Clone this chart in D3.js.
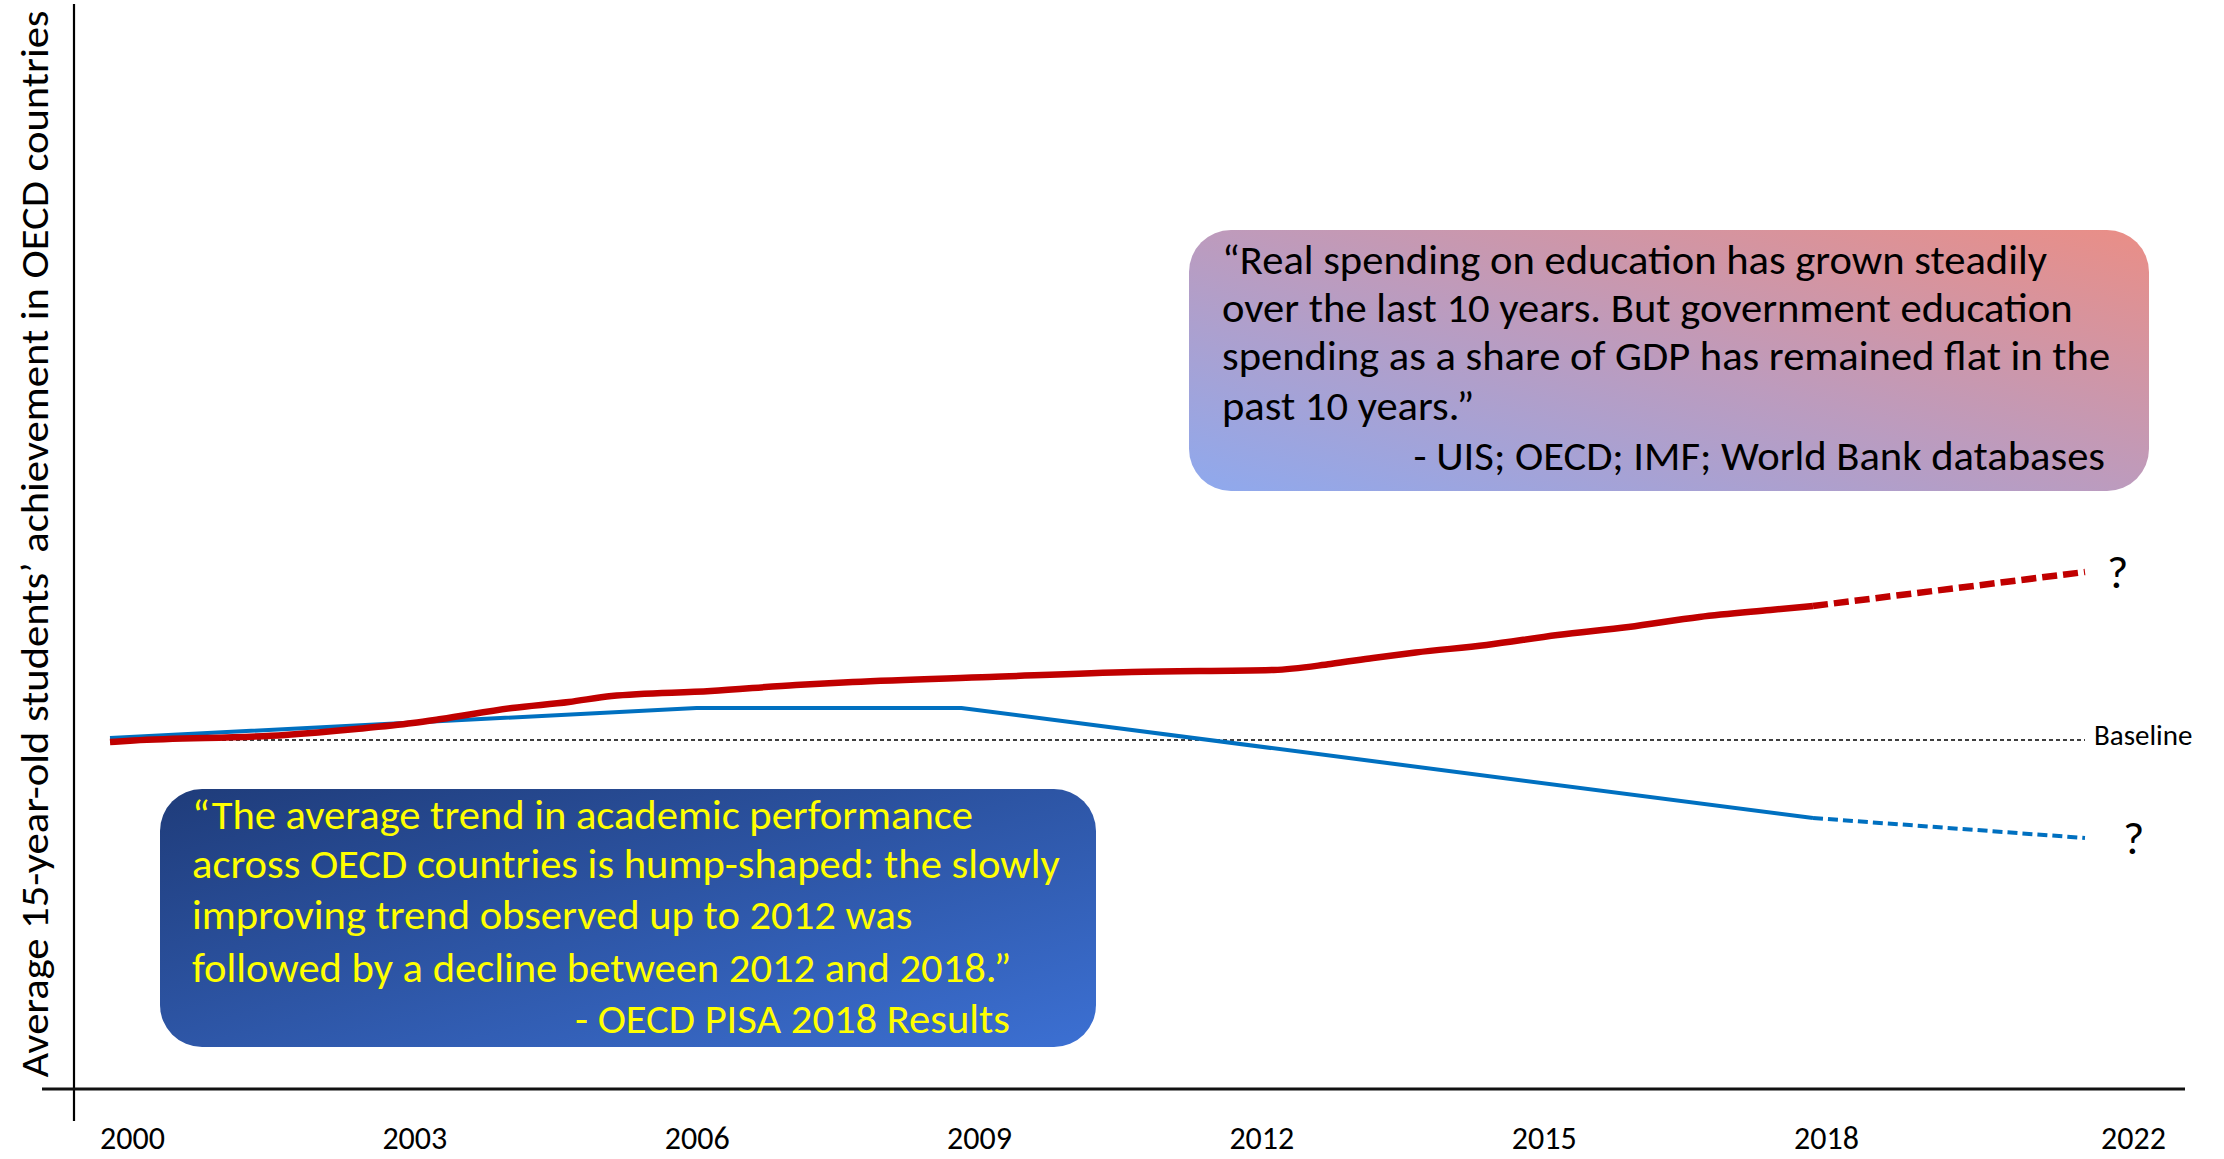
<!DOCTYPE html>
<html><head><meta charset="utf-8">
<script src="https://cdn.jsdelivr.net/npm/d3@7"></script>
<style>html,body{margin:0;padding:0;background:#fff;overflow:hidden;} svg{display:block;}</style>
</head><body>
<svg id="chart" width="2224" height="1159"></svg>
<script>
// ---------------- data ----------------
const tickYears = [2000, 2003, 2006, 2009, 2012, 2015, 2018, 2022];

// red: real spending on education (index, baseline = 100)
const spendingYears  = [2000, 2000.25, 2001.85, 2002.6, 2003.2, 2003.5, 2004.25, 2004.85, 2005.3, 2006.35, 2007.25, 2007.85, 2009.3, 2010.8, 2012.3, 2012.9, 2013.35, 2013.8, 2014.55, 2015.3, 2016.05, 2016.8, 2017.55, 2018];
const spendingValues = [99.8, 99.95, 100.5, 101.1, 101.7, 102.1, 103.2, 103.8, 104.4, 104.9, 105.5, 105.8, 106.3, 106.8, 107.0, 107.6, 108.2, 108.75, 109.5, 110.5, 111.3, 112.3, 113.0, 113.4];
const spendingProjYears  = [2018, 2022];
const spendingProjValues = [113.4, 116.8];

// blue: average 15-year-old students' achievement (index, baseline = 100)
const achievementYears  = [2000, 2006.2, 2009, 2018];
const achievementValues = [100.2, 103.2, 103.2, 92.2];
const achievementProjYears  = [2018, 2022];
const achievementProjValues = [92.2, 90.2];

const baselineYears = [2000, 2022];
const baselineValue = 100;
const baselineLabel = "Baseline";
const unknownMark = "?";

const yAxisLabel = "Average 15-year-old students’ achievement in OECD countries";
const spendingQuote = [
  "“Real spending on education has grown steadily",
  "over the last 10 years. But government education",
  "spending as a share of GDP has remained flat in the",
  "past 10 years.”"
];
const spendingSource = "- UIS; OECD; IMF; World Bank databases";
const pisaQuote = [
  "“The average trend in academic performance",
  "across OECD countries is hump-shaped: the slowly",
  "improving trend observed up to 2012 was",
  "followed by a decline between 2012 and 2018.”"
];
const pisaSource = "- OECD PISA 2018 Results";

// ---------------- drawing ----------------
const FONT = "Carlito, Calibri, Lato, 'Open Sans', sans-serif";
const svg = d3.select("#chart");
const defs = svg.append("defs");

const x = d3.scaleLinear().domain([2000, 2018, 2022]).range([110, 1813, 2085]);
const xLabel = d3.scaleLinear().domain([2000, 2018, 2022]).range([132, 1826, 2133]);
const y = d3.scaleLinear().domain([65, 174]).range([1090, 0]);

// gradients
const g1 = defs.append("linearGradient").attr("id","gTop")
  .attr("x1","0%").attr("y1","100%").attr("x2","100%").attr("y2","0%");
g1.append("stop").attr("offset","0%").attr("stop-color","#8EA9EE");
g1.append("stop").attr("offset","50%").attr("stop-color","#BD9BBD");
g1.append("stop").attr("offset","100%").attr("stop-color","#EA8E86");
const g2 = defs.append("linearGradient").attr("id","gBot")
  .attr("x1","0%").attr("y1","0%").attr("x2","100%").attr("y2","100%");
g2.append("stop").attr("offset","0%").attr("stop-color","#1F3C7A");
g2.append("stop").attr("offset","100%").attr("stop-color","#3C70D3");

// axes lines
svg.append("line").attr("x1",74).attr("x2",74).attr("y1",4).attr("y2",1121)
  .attr("stroke","#000").attr("stroke-width",2.2);
svg.append("line").attr("x1",42).attr("x2",2185).attr("y1",1089).attr("y2",1089)
  .attr("stroke","#111").attr("stroke-width",3);

// x tick labels via axis
const xAxis = d3.axisBottom(xLabel).tickValues(tickYears).tickFormat(d3.format("d")).tickSize(0).tickPadding(0);
const gx = svg.append("g").attr("transform","translate(0,1149)").call(xAxis);
gx.select(".domain").remove();
gx.selectAll("text").attr("font-family",FONT).attr("font-size",32).attr("fill","#000")
  .attr("dy",0).attr("y",0);

// y axis label
const yl = svg.append("text").attr("transform","translate(48,544) rotate(-90)")
  .attr("text-anchor","middle").attr("font-family",FONT).attr("font-size",38).attr("fill","#000")
  .text(yAxisLabel);
yl.attr("textLength",1067).attr("lengthAdjust","spacingAndGlyphs");

// baseline
svg.append("line").attr("x1",x(baselineYears[0])).attr("x2",x(baselineYears[1]))
  .attr("y1",y(baselineValue)).attr("y2",y(baselineValue))
  .attr("stroke","#000").attr("stroke-width",1.3).attr("stroke-dasharray","4,3");
svg.append("text").attr("x",x(baselineYears[1])+9).attr("y",y(baselineValue)+5)
  .attr("font-family",FONT).attr("font-size",29).attr("fill","#000").text(baselineLabel);

const line = d3.line().x(d=>x(d[0])).y(d=>y(d[1]));
const zip = (a,b)=>a.map((v,i)=>[v,b[i]]);

// blue
svg.append("path").datum(zip(achievementYears,achievementValues))
  .attr("d",line.curve(d3.curveLinear)).attr("fill","none").attr("stroke","#0070C0").attr("stroke-width",4);
svg.append("path").datum(zip(achievementProjYears,achievementProjValues))
  .attr("d",line.curve(d3.curveLinear)).attr("fill","none").attr("stroke","#0070C0").attr("stroke-width",4)
  .attr("stroke-dasharray","10,5");
// red
svg.append("path").datum(zip(spendingYears,spendingValues))
  .attr("d",d3.line().x(d=>x(d[0])).y(d=>y(d[1])).curve(d3.curveMonotoneX))
  .attr("fill","none").attr("stroke","#C00000").attr("stroke-width",6.5).attr("stroke-linejoin","round");
svg.append("path").datum(zip(spendingProjYears,spendingProjValues))
  .attr("d",line.curve(d3.curveLinear)).attr("fill","none").attr("stroke","#C00000").attr("stroke-width",6.5)
  .attr("stroke-dasharray","15,6");

// question marks
svg.append("text").attr("x",x(2022)+22).attr("y",y(spendingProjValues[1])+16)
  .attr("font-family",FONT).attr("font-size",46).attr("fill","#000").text(unknownMark);
svg.append("text").attr("x",x(2022)+38).attr("y",y(achievementProjValues[1])+16)
  .attr("font-family",FONT).attr("font-size",46).attr("fill","#000").text(unknownMark);

// text boxes
function quoteBox(opts){
  svg.append("rect").attr("x",opts.x).attr("y",opts.y).attr("width",opts.w).attr("height",opts.h)
    .attr("rx",42).attr("ry",42).attr("fill",opts.fill);
  const texts = [];
  opts.lines.forEach((t,i)=>{
    texts.push(svg.append("text").attr("x",opts.tx).attr("y",opts.baselines[i])
      .attr("font-family",FONT).attr("font-size",opts.fs).attr("fill",opts.color).text(t));
  });
  const src = svg.append("text").attr("x",opts.sx).attr("y",opts.baselines[opts.lines.length])
    .attr("text-anchor","end").attr("font-family",FONT).attr("font-size",opts.fs).attr("fill",opts.color).text(opts.source);
  const nat = texts[0].node().getComputedTextLength();
  const f = opts.firstWidth / nat;
  texts.concat([src]).forEach(t=>{
    const w = t.node().getComputedTextLength();
    t.attr("textLength", w*f).attr("lengthAdjust","spacingAndGlyphs");
  });
}
quoteBox({x:1189,y:230,w:960,h:261,fill:"url(#gTop)",lines:spendingQuote,source:spendingSource,
  tx:1222,sx:2105,baselines:[274,322,370,420,470],fs:40,color:"#000",firstWidth:825});
quoteBox({x:160,y:789,w:936,h:258,fill:"url(#gBot)",lines:pisaQuote,source:pisaSource,
  tx:192,sx:1010,baselines:[829,878,929,982,1033],fs:40,color:"#FFFF00",firstWidth:781});
</script>
</body></html>
